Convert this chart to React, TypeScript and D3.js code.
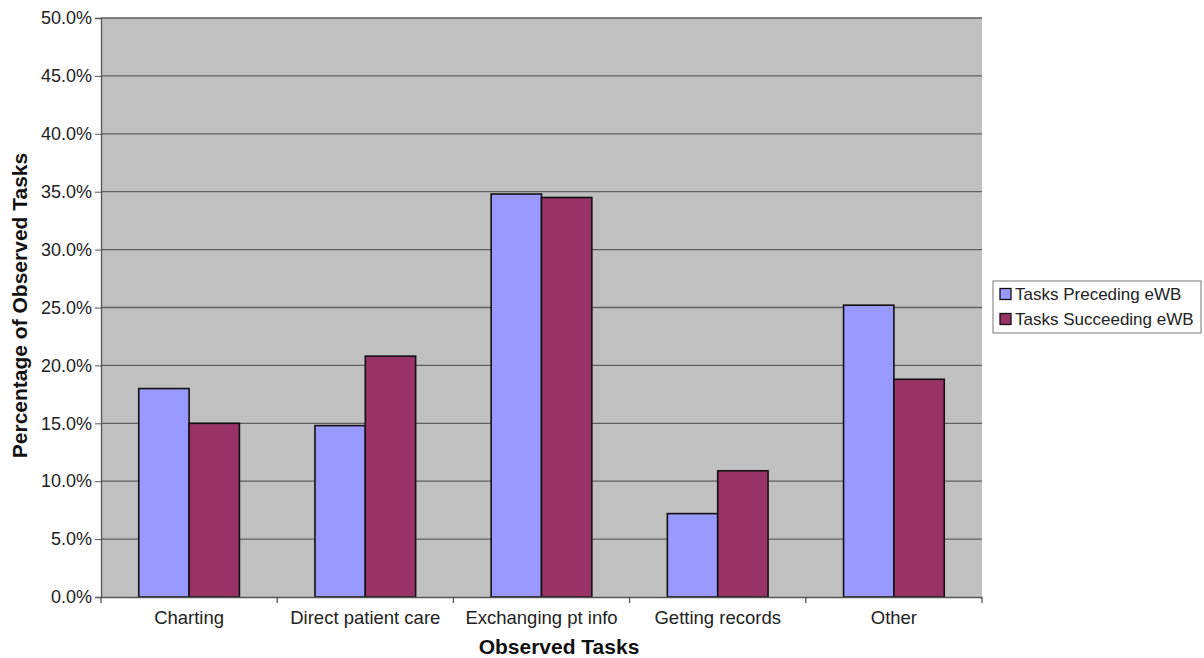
import React, { useEffect, useRef } from 'react';
import * as d3 from 'd3';

const categories = [
  'Charting',
  'Direct patient care',
  'Exchanging pt info',
  'Getting records',
  'Other',
];
const seriesNames = ['Tasks Preceding eWB', 'Tasks Succeeding eWB'];
const preceding = [18.0, 14.8, 34.8, 7.2, 25.2];
const succeeding = [15.0, 20.8, 34.5, 10.9, 18.8];
const yTicks = [0, 5, 10, 15, 20, 25, 30, 35, 40, 45, 50];

const colors = ['#9999FF', '#993366'];

const App: React.FC = () => {
  const svgRef = useRef<SVGSVGElement>(null);
  const width = 1204;
  const height = 658;

  useEffect(() => {
    if (!svgRef.current) return;
    const svg = d3.select(svgRef.current);
    svg.selectAll('*').remove();

    const margin = { top: 18, right: 222, bottom: 61, left: 101 };
    const innerWidth = width - margin.left - margin.right;
    const innerHeight = height - margin.top - margin.bottom;
    const font = 'Arial, "Liberation Sans", Helvetica, sans-serif';

    const x0 = d3.scaleBand().domain(categories).range([0, innerWidth]);
    // Excel-style gap width of 150%: two bars + 1.5 bar widths of gap
    const barW = x0.bandwidth() / 3.5;
    const x1 = d3
      .scaleBand()
      .domain(seriesNames)
      .range([barW * 0.75, barW * 2.75]);
    const y = d3.scaleLinear().domain([0, 50]).range([innerHeight, 0]);

    const g = svg
      .append('g')
      .attr('transform', `translate(${margin.left},${margin.top})`);

    // plot background
    g.append('rect')
      .attr('width', innerWidth)
      .attr('height', innerHeight)
      .attr('fill', '#C0C0C0');

    // horizontal gridlines
    g.append('g')
      .selectAll('line')
      .data(yTicks.filter((t) => t > 0))
      .enter()
      .append('line')
      .attr('x1', 0)
      .attr('x2', innerWidth)
      .attr('y1', (d) => y(d))
      .attr('y2', (d) => y(d))
      .attr('stroke', '#5f5f5f')
      .attr('stroke-width', 1.3);

    // bars
    const rows = categories.map((c, i) => ({
      category: c,
      values: [preceding[i], succeeding[i]],
    }));

    const groups = g
      .selectAll('.bar-group')
      .data(rows)
      .enter()
      .append('g')
      .attr('class', 'bar-group')
      .attr('transform', (d) => `translate(${x0(d.category)},0)`);

    groups
      .selectAll('rect')
      .data((d) => d.values.map((v, i) => ({ v, name: seriesNames[i], i })))
      .enter()
      .append('rect')
      .attr('x', (d) => x1(d.name) as number)
      .attr('y', (d) => y(d.v))
      .attr('width', x1.bandwidth())
      .attr('height', (d) => innerHeight - y(d.v))
      .attr('fill', (d) => colors[d.i])
      .attr('stroke', '#111')
      .attr('stroke-width', 1.6);

    // y axis
    const yAxis = g
      .append('g')
      .call(
        d3
          .axisLeft(y)
          .tickValues(yTicks)
          .tickSize(6)
          .tickPadding(3)
          .tickFormat((d) => `${(d as number).toFixed(1)}%`)
      );
    yAxis.select('.domain').attr('stroke', '#555').attr('stroke-width', 1.3);
    yAxis.selectAll('line').attr('stroke', '#555');
    yAxis
      .selectAll('text')
      .style('font-family', font)
      .style('font-size', '18px')
      .style('fill', '#222');

    // x axis
    const xAxis = g
      .append('g')
      .attr('transform', `translate(0,${innerHeight})`)
      .call(d3.axisBottom(x0).tickSize(0).tickPadding(14));
    xAxis.select('.domain').attr('stroke', '#555').attr('stroke-width', 1.3);
    xAxis
      .selectAll('text')
      .style('font-family', font)
      .style('font-size', '18.5px')
      .style('fill', '#222');

    // category separator ticks
    xAxis
      .selectAll('.sep')
      .data(d3.range(categories.length + 1))
      .enter()
      .append('line')
      .attr('class', 'sep')
      .attr('x1', (i) => i * x0.step())
      .attr('x2', (i) => i * x0.step())
      .attr('y1', 0)
      .attr('y2', 6)
      .attr('stroke', '#555')
      .attr('stroke-width', 1.3);

    // axis titles
    svg
      .append('text')
      .attr('x', 559)
      .attr('y', 654)
      .style('text-anchor', 'middle')
      .style('font-family', font)
      .style('font-size', '21px')
      .style('font-weight', '700')
      .style('fill', '#111')
      .text('Observed Tasks');

    svg
      .append('text')
      .attr('transform', `translate(27,${margin.top + innerHeight / 2 - 2}) rotate(-90)`)
      .style('text-anchor', 'middle')
      .style('font-family', font)
      .style('font-size', '21px')
      .style('font-weight', '700')
      .style('fill', '#111')
      .text('Percentage of Observed Tasks');

    // legend
    const legend = svg.append('g').attr('transform', 'translate(993,281)');
    legend
      .append('rect')
      .attr('width', 208)
      .attr('height', 52)
      .attr('fill', '#fff')
      .attr('stroke', '#777')
      .attr('stroke-width', 1);

    const items = legend
      .selectAll('.legend-item')
      .data(seriesNames)
      .enter()
      .append('g')
      .attr('class', 'legend-item')
      .attr('transform', (_, i) => `translate(7,${13 + i * 25})`);

    items
      .append('rect')
      .attr('y', -5.5)
      .attr('width', 11)
      .attr('height', 11)
      .attr('fill', (_, i) => colors[i])
      .attr('stroke', '#111')
      .attr('stroke-width', 1.3);

    items
      .append('text')
      .attr('x', 15)
      .attr('dy', '0.35em')
      .style('font-family', font)
      .style('font-size', '17px')
      .style('fill', '#222')
      .text((d) => d);
  }, []);

  return (
    <svg
      ref={svgRef}
      width={width}
      height={height}
      style={{ position: 'absolute', left: 0, top: 0, background: '#fff' }}
    />
  );
};

export default App;
